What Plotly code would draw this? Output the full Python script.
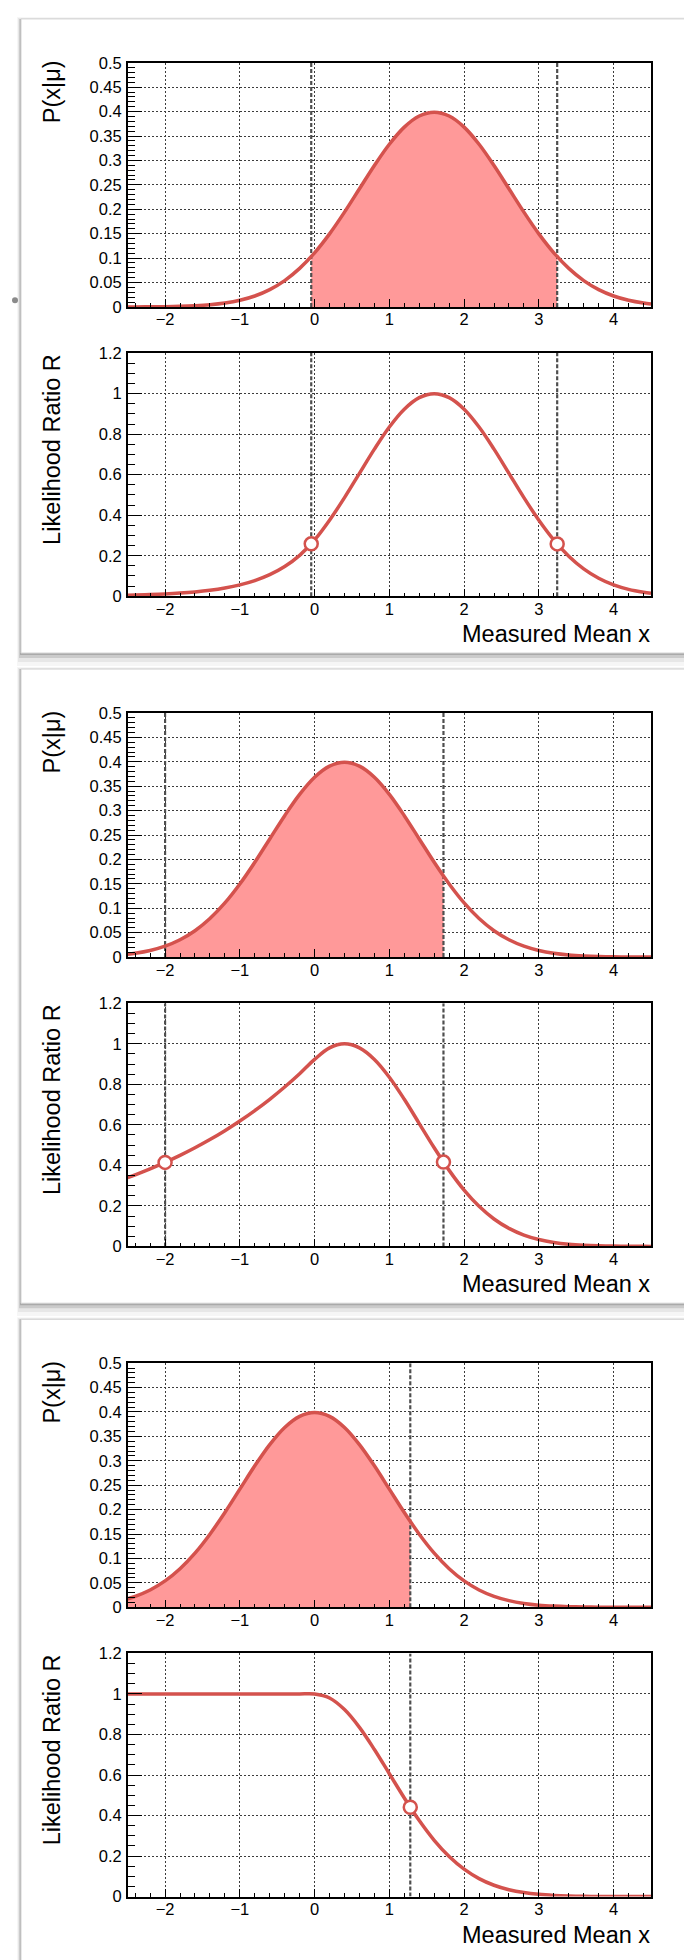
import plotly.graph_objects as go

W, H = 684, 1960

# ---------------- data ----------------
x_grid = [-2.5, -2.4, -2.2, -2.0, -1.8, -1.6, -1.4, -1.2, -1.0, -0.8, -0.6, -0.4, -0.2,
          0.0, 0.2, 0.4, 0.6, 0.8, 1.0, 1.2, 1.4, 1.6, 1.8, 2.0, 2.2, 2.4, 2.6, 2.8,
          3.0, 3.2, 3.4, 3.6, 3.8, 4.0, 4.2, 4.4, 4.5]

# panel 1 : mu = 1.6
p_mu16 = [0.0001, 0.0001, 0.0003, 0.0006, 0.0012, 0.0024, 0.0044, 0.0079, 0.0136, 0.0224,
          0.0355, 0.0540, 0.0790, 0.1109, 0.1497, 0.1942, 0.2420, 0.2897, 0.3332, 0.3683,
          0.3910, 0.3989, 0.3910, 0.3683, 0.3332, 0.2897, 0.2420, 0.1942, 0.1497, 0.1109,
          0.0790, 0.0540, 0.0355, 0.0224, 0.0136, 0.0079, 0.0060]
r_mu16 = [0.0051, 0.0060, 0.0082, 0.0113, 0.0156, 0.0215, 0.0296, 0.0408, 0.0561, 0.0773,
          0.1065, 0.1466, 0.2019, 0.2780, 0.3753, 0.4868, 0.6065, 0.7261, 0.8353, 0.9231,
          0.9802, 1.0000, 0.9802, 0.9231, 0.8353, 0.7261, 0.6065, 0.4868, 0.3753, 0.2780,
          0.1979, 0.1353, 0.0889, 0.0561, 0.0340, 0.0198, 0.0149]

# panel 2 : mu = 0.4
p_mu04 = [0.0060, 0.0079, 0.0136, 0.0224, 0.0355, 0.0540, 0.0790, 0.1109, 0.1497, 0.1942,
          0.2420, 0.2897, 0.3332, 0.3683, 0.3910, 0.3989, 0.3910, 0.3683, 0.3332, 0.2897,
          0.2420, 0.1942, 0.1497, 0.1109, 0.0790, 0.0540, 0.0355, 0.0224, 0.0136, 0.0079,
          0.0044, 0.0024, 0.0012, 0.0006, 0.0003, 0.0001, 0.0001]
r_mu04 = [0.3396, 0.3535, 0.3829, 0.4148, 0.4493, 0.4868, 0.5273, 0.5712, 0.6188, 0.6703,
          0.7261, 0.7866, 0.8521, 0.9231, 0.9802, 1.0000, 0.9802, 0.9231, 0.8353, 0.7261,
          0.6065, 0.4868, 0.3753, 0.2780, 0.1979, 0.1353, 0.0889, 0.0561, 0.0340, 0.0198,
          0.0111, 0.0060, 0.0031, 0.0015, 0.0007, 0.0003, 0.0002]

# panel 3 : mu = 0
p_mu0 = [0.0175, 0.0224, 0.0355, 0.0540, 0.0790, 0.1109, 0.1497, 0.1942, 0.2420, 0.2897,
         0.3332, 0.3683, 0.3910, 0.3989, 0.3910, 0.3683, 0.3332, 0.2897, 0.2420, 0.1942,
         0.1497, 0.1109, 0.0790, 0.0540, 0.0355, 0.0224, 0.0136, 0.0079, 0.0044, 0.0024,
         0.0012, 0.0006, 0.0003, 0.0001, 0.0001, 0.0000, 0.0000]
r_mu0 = [1.0000, 1.0000, 1.0000, 1.0000, 1.0000, 1.0000, 1.0000, 1.0000, 1.0000, 1.0000,
         1.0000, 1.0000, 1.0000, 1.0000, 0.9802, 0.9231, 0.8353, 0.7261, 0.6065, 0.4868,
         0.3753, 0.2780, 0.1979, 0.1353, 0.0889, 0.0561, 0.0340, 0.0198, 0.0111, 0.0060,
         0.0031, 0.0015, 0.0007, 0.0003, 0.0001, 0.0000, 0.0000]

# acceptance-interval edges (filled region) and values at the edges
fill_lo = [-0.045, -2.0, -2.5]
fill_hi = [3.245, 1.724, 1.28]
p_at_lo = [0.1031, 0.0224, 0.0175]
p_at_hi = [0.1031, 0.1660, 0.1759]

# dashed boundary lines and open circles on the R curves
cut_x = [[-0.045, 3.245], [-2.0, 1.724], [1.28]]
cut_r = [[0.2587, 0.2585], [0.4148, 0.4162], [0.4408]]

p_curves = [p_mu16, p_mu04, p_mu0]
r_curves = [r_mu16, r_mu04, r_mu0]

x_range = [-2.5, 4.5]
p_range = [0, 0.5]
r_range = [0, 1.2]

y_title_p = "P(x|μ)"
y_title_r = "Likelihood Ratio R"
x_title = "Measured Mean x"

# ---------------- styling ----------------
RED = "#d4524d"
PINK = "#ff9999"
DASHC = "#4e4e4e"
FONT = "Liberation Sans, Arial, Helvetica, sans-serif"
PERIOD = 656.2
X0_PX, X1_PX = 127.7, 651.0
P_TOP, P_BOT = 54.3, 300.7
R_TOP, R_BOT = 347.3, 592.7
TICK_SIZE = 16.5
TITLE_SIZE = 23.5


def px_y(py):
    return 1 - py / H


def px_x(px):
    return px / W


fig = go.Figure()
shapes = []
annotations = []
layout_axes = {}

# panel backgrounds with soft shadow (last panel runs off the bottom of the page)
for k in range(3):
    top = 10 + PERIOD * k
    bot = 650 + PERIOD * k if k < 2 else 2010
    for (dx, dy_top, dy_bot, col) in [(-4, -2, 13, "rgba(0,0,0,0.035)"),
                                      (-3, -1, 9, "rgba(0,0,0,0.06)"),
                                      (-2, 0, 5, "rgba(0,0,0,0.12)"),
                                      (-1, 0, 2, "rgba(0,0,0,0.16)")]:
        shapes.append(dict(type="rect", xref="paper", yref="paper", layer="below",
                           x0=px_x(21 + dx), x1=px_x(720),
                           y0=px_y(bot + dy_bot), y1=px_y(top + dy_top),
                           fillcolor=col, line=dict(width=0)))
    shapes.append(dict(type="rect", xref="paper", yref="paper", layer="below",
                       x0=px_x(21), x1=px_x(720), y0=px_y(bot), y1=px_y(top),
                       fillcolor="white", line=dict(color="#d4d4d4", width=1)))

# small grey bullet at the left margin
shapes.append(dict(type="circle", xref="paper", yref="paper", layer="above",
                   x0=px_x(12), x1=px_x(18), y0=px_y(297), y1=px_y(291),
                   fillcolor="#8a8a8a", line=dict(width=0)))

for k in range(3):
    off = PERIOD * k
    ip = 2 * k + 1
    ir = 2 * k + 2
    for idx, (top, bot, rng, dtk, mdt) in zip(
            [ip, ir],
            [(P_TOP + off, P_BOT + off, p_range, 0.05, 0.01),
             (R_TOP + off, R_BOT + off, r_range, 0.2, 0.05)]):
        xn = "xaxis" if idx == 1 else f"xaxis{idx}"
        yn = "yaxis" if idx == 1 else f"yaxis{idx}"
        layout_axes[xn] = dict(
            domain=[px_x(X0_PX), px_x(X1_PX)], anchor=f"y{idx}", range=x_range,
            dtick=1, tick0=0, ticks="inside", ticklen=8, tickwidth=1, tickcolor="black",
            showline=True, mirror=True, linecolor="black", linewidth=1.5,
            showgrid=True, gridcolor="#3c3c3c", griddash="2px,2px", gridwidth=1,
            zeroline=False, ticklabelstandoff=-3,
            tickfont=dict(family=FONT, size=TICK_SIZE, color="black"),
            minor=dict(ticks="inside", ticklen=4, dtick=0.2, tick0=0,
                       tickcolor="black", showgrid=False))
        layout_axes[yn] = dict(
            domain=[px_y(bot), px_y(top)], anchor=f"x{idx}", range=rng,
            dtick=dtk, tick0=0, ticks="inside", ticklen=15, tickwidth=1, tickcolor="black",
            showline=True, mirror=True, linecolor="black", linewidth=1.5,
            showgrid=True, gridcolor="#3c3c3c", griddash="2px,2px", gridwidth=1,
            zeroline=False, ticklabelstandoff=1,
            tickfont=dict(family=FONT, size=TICK_SIZE, color="black"),
            minor=dict(ticks="inside", ticklen=8, dtick=mdt, tick0=0,
                       tickcolor="black", showgrid=False))

    xa = "x" if ip == 1 else f"x{ip}"
    ya = "y" if ip == 1 else f"y{ip}"
    xb, yb = f"x{ir}", f"y{ir}"

    pc = p_curves[k]
    rc = r_curves[k]
    lo, hi = fill_lo[k], fill_hi[k]

    # shaded acceptance region
    fx = [lo] + [g for g in x_grid if lo < g < hi] + [hi]
    fy = [p_at_lo[k]] + [v for g, v in zip(x_grid, pc) if lo < g < hi] + [p_at_hi[k]]
    fig.add_trace(go.Scatter(x=fx, y=fy, xaxis=xa, yaxis=ya, mode="lines",
                             line=dict(width=0, shape="spline", color=PINK),
                             fill="tozeroy", fillcolor=PINK, hoverinfo="skip",
                             showlegend=False))

    # dashed boundary lines (both panels)
    for cx in cut_x[k]:
        for (xx, yy, rr) in [(xa, ya, p_range), (xb, yb, r_range)]:
            fig.add_trace(go.Scatter(x=[cx, cx], y=rr, xaxis=xx, yaxis=yy, mode="lines",
                                     line=dict(color=DASHC, width=2.2, dash="4px,2px"),
                                     hoverinfo="skip", showlegend=False))

    # curves
    fig.add_trace(go.Scatter(x=x_grid, y=pc, xaxis=xa, yaxis=ya, mode="lines",
                             line=dict(color=RED, width=3.5, shape="spline"),
                             showlegend=False))
    fig.add_trace(go.Scatter(x=x_grid, y=rc, xaxis=xb, yaxis=yb, mode="lines",
                             line=dict(color=RED, width=3.5, shape="spline"),
                             showlegend=False))
    # open circles
    fig.add_trace(go.Scatter(x=cut_x[k], y=cut_r[k], xaxis=xb, yaxis=yb, mode="markers",
                             marker=dict(symbol="circle", size=13, color="white",
                                         line=dict(color=RED, width=2.5)),
                             cliponaxis=False, showlegend=False))

    # titles
    annotations.append(dict(text=y_title_p, xref="paper", yref="paper",
                            x=px_x(52), y=px_y(84 + off), xanchor="center", yanchor="middle",
                            textangle=-90, showarrow=False,
                            font=dict(family=FONT, size=TITLE_SIZE, color="black")))
    annotations.append(dict(text=y_title_r, xref="paper", yref="paper",
                            x=px_x(52), y=px_y(445 + off), xanchor="center", yanchor="middle",
                            textangle=-90, showarrow=False,
                            font=dict(family=FONT, size=TITLE_SIZE, color="black")))
    annotations.append(dict(text=x_title, xref="paper", yref="paper",
                            x=px_x(652), y=px_y(631 + off), xanchor="right", yanchor="middle",
                            showarrow=False,
                            font=dict(family=FONT, size=TITLE_SIZE, color="black")))

fig.update_layout(
    width=W, height=H, margin=dict(l=0, r=0, t=0, b=0),
    paper_bgcolor="white", plot_bgcolor="white",
    shapes=shapes, annotations=annotations, showlegend=False,
    **layout_axes)

fig.write_html("out.html")
